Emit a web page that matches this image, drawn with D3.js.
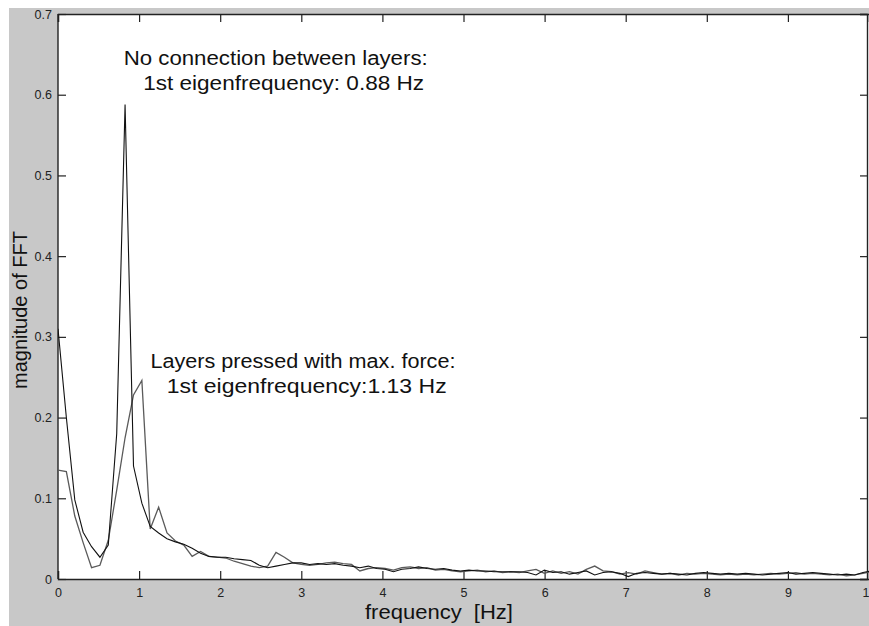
<!DOCTYPE html>
<html><head><meta charset="utf-8">
<script src="https://cdn.jsdelivr.net/npm/d3@7"></script>
<style>html,body{margin:0;padding:0;background:#fff;}svg{display:block;font-family:"Liberation Sans",Arial,sans-serif;}</style>
</head><body>
<svg id="c" width="869" height="626"></svg>
<script>
// frequency bins [Hz]
const freq = [0,0.103,0.207,0.310,0.414,0.517,0.620,0.724,0.827,0.931,1.034,1.137,1.241,1.344,1.448,1.551,1.654,1.758,1.861,1.965,
2.068,2.171,2.275,2.378,2.482,2.585,2.688,2.792,2.895,2.999,3.102,3.205,3.309,3.412,3.516,3.619,3.722,3.826,3.929,4.033,
4.136,4.239,4.343,4.446,4.550,4.653,4.756,4.860,4.963,5.067,5.170,5.273,5.377,5.480,5.584,5.687,5.790,5.894,5.997,6.101,
6.204,6.307,6.411,6.514,6.618,6.721,6.824,6.928,7.031,7.135,7.238,7.341,7.445,7.548,7.652,7.755,7.858,7.962,8.065,8.169,
8.272,8.375,8.479,8.582,8.686,8.789,8.892,8.996,9.099,9.203,9.306,9.409,9.513,9.616,9.720,9.823,9.926,10.030];
// No connection between layers (black)
const noConnection = [0.31,0.20,0.098,0.058,0.040,0.027,0.042,0.18,0.588,0.14,0.094,0.065,0.057,0.050,0.046,0.043,0.038,0.032,0.028,0.027,
0.027,0.025,0.024,0.023,0.017,0.014,0.016,0.018,0.020,0.020,0.018,0.019,0.018,0.019,0.017,0.016,0.014,0.016,0.013,0.012,
0.009,0.012,0.013,0.015,0.013,0.012,0.013,0.011,0.010,0.011,0.010,0.010,0.009,0.009,0.009,0.009,0.008,0.005,0.011,0.008,
0.009,0.006,0.008,0.010,0.005,0.008,0.009,0.007,0.003,0.007,0.008,0.007,0.006,0.007,0.006,0.005,0.007,0.008,0.007,0.006,
0.007,0.006,0.007,0.006,0.005,0.006,0.007,0.008,0.006,0.007,0.008,0.007,0.006,0.005,0.006,0.005,0.008,0.010];
// Layers pressed with max. force (gray)
const pressed = [0.135,0.133,0.078,0.045,0.014,0.017,0.048,0.11,0.175,0.228,0.246,0.062,0.089,0.057,0.047,0.042,0.028,0.034,0.028,0.027,
0.026,0.022,0.019,0.016,0.014,0.016,0.033,0.027,0.020,0.018,0.017,0.018,0.020,0.021,0.019,0.018,0.010,0.013,0.014,0.013,
0.011,0.014,0.015,0.013,0.014,0.011,0.012,0.010,0.009,0.010,0.011,0.009,0.010,0.008,0.009,0.008,0.010,0.012,0.007,0.010,
0.007,0.009,0.006,0.012,0.016,0.010,0.009,0.006,0.008,0.006,0.010,0.008,0.006,0.007,0.005,0.007,0.006,0.007,0.006,0.005,
0.006,0.005,0.006,0.005,0.006,0.007,0.006,0.007,0.008,0.006,0.007,0.006,0.005,0.006,0.004,0.005,0.007,0.009];
const xTicks = [0,1,2,3,4,5,6,7,8,9,10];
const yTicks = [0,0.1,0.2,0.3,0.4,0.5,0.6,0.7];
const yTickLabels = ["0","0.1","0.2","0.3","0.4","0.5","0.6","0.7"];
const xLabel = "frequency  [Hz]";
const yLabel = "magnitude of FFT";
const notes = [
  {text:"No connection between layers:", x:0.81, y:0.637, len:304},
  {text:"1st eigenfrequency: 0.88 Hz", x:1.05, y:0.606, len:281},
  {text:"Layers pressed with max. force:", x:1.14, y:0.261, len:305},
  {text:"1st eigenfrequency:1.13 Hz", x:1.34, y:0.231, len:280}
];

const svg = d3.select("#c");
const L = 58, R = 869, T = 14, B = 579;
const x = d3.scaleLinear().domain([0,10]).range([L,R]);
const y = d3.scaleLinear().domain([0,0.7]).range([B,T]);

svg.append("rect").attr("x",0).attr("y",0).attr("width",869).attr("height",626).attr("fill","#ffffff");
svg.append("rect").attr("x",9).attr("y",8).attr("width",860).attr("height",618).attr("fill","#c8c8c8");
svg.append("rect").attr("x",L).attr("y",T).attr("width",R-L+2).attr("height",B-T).attr("fill","#ffffff");

// axes
const tickCol = "#222";
const gBottom = svg.append("g").attr("transform",`translate(0,${B})`)
  .call(d3.axisBottom(x).tickValues(xTicks).tickSize(-8).tickPadding(9).tickFormat(d3.format("d")));
const gTop = svg.append("g").attr("transform",`translate(0,${T})`)
  .call(d3.axisTop(x).tickValues(xTicks).tickSize(-8).tickFormat(""));
const gLeft = svg.append("g").attr("transform",`translate(${L},0)`)
  .call(d3.axisLeft(y).tickValues(yTicks).tickSize(-8).tickPadding(6).tickFormat((d,i)=>yTickLabels[i]));
const gRight = svg.append("g").attr("transform",`translate(${R-2},0)`)
  .call(d3.axisRight(y).tickValues(yTicks).tickSize(-7).tickFormat(""));
[gBottom,gTop,gLeft,gRight].forEach(g=>{
  g.select(".domain").attr("stroke",tickCol).attr("stroke-width",1.4);
  g.selectAll(".tick line").attr("stroke",tickCol).attr("stroke-width",1.2);
  g.selectAll(".tick text").attr("fill","#222").attr("font-size",12.5)
    .attr("font-family","'Liberation Sans',Arial,sans-serif");
});
gLeft.select(".domain").remove();
svg.append("line").attr("x1",L).attr("x2",L).attr("y1",T).attr("y2",B).attr("stroke",tickCol).attr("stroke-width",1.4);

// lines
const line = d3.line().x((d,i)=>x(freq[i])).y(d=>y(d));
svg.append("clipPath").attr("id","pc").append("rect").attr("x",L).attr("y",T).attr("width",R-L+5).attr("height",B-T);
svg.append("path").datum(pressed).attr("d",line).attr("fill","none").attr("stroke","#5a5a5a").attr("stroke-width",1.3).attr("clip-path","url(#pc)");
svg.append("path").datum(noConnection).attr("d",line).attr("fill","none").attr("stroke","#111").attr("stroke-width",1.1).attr("clip-path","url(#pc)");

// annotations
notes.forEach(n=>{
  svg.append("text").attr("x",x(n.x)).attr("y",y(n.y)).attr("font-size",20).attr("fill","#111")
    .attr("textLength",n.len).attr("lengthAdjust","spacingAndGlyphs").text(n.text);
});

// axis labels
svg.append("text").attr("x",439).attr("y",619).attr("text-anchor","middle").attr("font-size",20).attr("fill","#111")
  .attr("textLength",148).attr("lengthAdjust","spacingAndGlyphs")
  .attr("xml:space","preserve").style("white-space","pre").text(xLabel);
svg.append("text").attr("transform","translate(27,310) rotate(-90)").attr("text-anchor","middle").attr("font-size",20).attr("fill","#111").text(yLabel);
</script>
</body></html>
